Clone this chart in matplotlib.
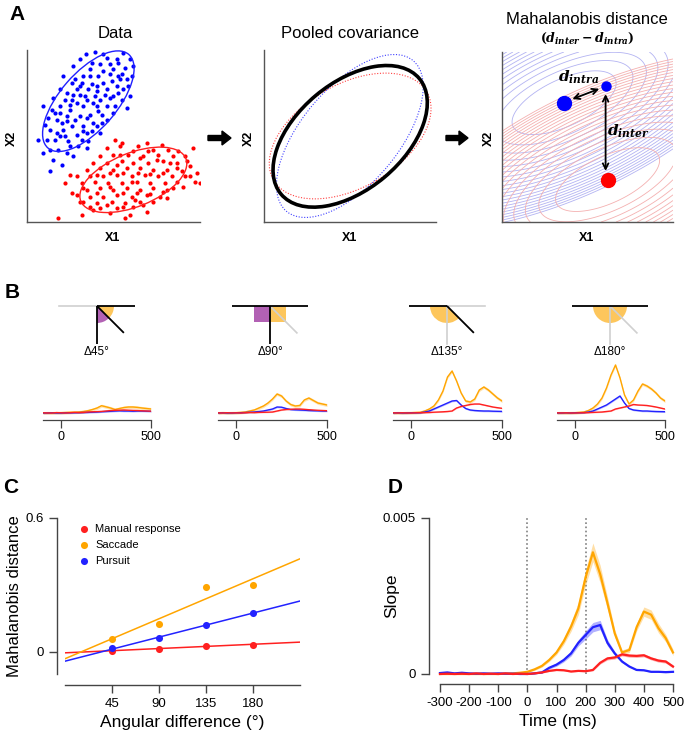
import numpy as np
import matplotlib.pyplot as plt
from matplotlib.patches import Ellipse, Wedge, Rectangle, FancyArrow

plt.rcParams['font.family'] = ['Liberation Sans', 'DejaVu Sans']
plt.rcParams['axes.unicode_minus'] = False
plt.rcParams['mathtext.fontset'] = 'custom'
plt.rcParams['mathtext.it'] = 'DejaVu Serif:italic:bold'
plt.rcParams['mathtext.rm'] = 'DejaVu Serif:bold'

W, H = 685, 735

ORANGE = '#ffa500'
BLUE = '#2222ff'
RED = '#ff2020'
SPINE = '#444444'

# ---------------- panel A: toy data in feature units ----------------
blue_pts = [(25.8, 53.5), (28.5, 54.2), (32, 52.5), (35, 52), (35.5, 51), (39, 52.2), (30, 50.5),
            (27, 49), (34, 49), (37.5, 49.5), (33, 47.5), (29.5, 47), (25, 47), (36, 46), (38, 46),
            (31, 45), (27.5, 44.5), (24.5, 45), (21.5, 45), (19, 47), (35, 44), (32, 43), (29, 42.5),
            (26.5, 43), (23, 43), (20, 42), (37, 43), (34, 41), (30, 40), (26, 40), (23, 39),
            (19.5, 40), (16, 40.5), (32, 38), (29, 38), (25, 38), (21, 37), (18, 38), (15.5, 37),
            (34.5, 38), (30.5, 35.5), (27, 35.5), (24, 35), (20, 35), (17, 34), (13.5, 32.5), (28, 33),
            (25, 32), (21.5, 32), (18.5, 33), (15, 31), (26, 30), (23, 29.5), (19.5, 29), (16.5, 28),
            (14, 28), (30, 30), (24.5, 28), (21, 26), (17.5, 25), (20, 24), (15, 25), (12.8, 24),
            (18.5, 20.5), (15, 18.5), (38, 37.5), (36.5, 40), (39, 41), (21.5, 40), (24, 41.5),
            (28.5, 41), (27, 47), (22.5, 46), (31, 48.5), (18, 29), (26.5, 27.5), (29, 32), (32, 34),
            (33, 40.5), (35.5, 47), (22, 50), (24, 52), (31, 53.5), (37, 54), (40, 50), (38.5, 44),
            (33.5, 45.5), (29, 44), (25.5, 41), (22, 41.5), (18, 43), (16.5, 36), (19, 31),
            (22.5, 34), (26, 34.5), (29.5, 36.5), (31.5, 41.5), (28, 39), (35.5, 42), (14.5, 34.5),
            (17, 30), (20.5, 27.5), (23.5, 26), (27.5, 30.5), (21, 38.5), (24, 44), (27.5, 51),
            (33, 50.5), (36.5, 47.5), (30.5, 33), (25, 30.5), (13, 38), (11.5, 28), (16, 22),
            (22, 23), (39.5, 47), (34, 36), (26, 25.5), (20, 33.5), (18, 36)]
red_pts = [(34.5, 28), (36.5, 27), (41.5, 26), (46, 25), (50.5, 25), (58, 25.5), (30, 23), (34, 23.5),
           (38.5, 23.5), (43, 23), (47.5, 23.5), (52, 23), (55.5, 23), (28, 21), (32, 21), (36.5, 21.5),
           (40, 21), (44.5, 21), (49, 21.5), (53, 21), (57, 20), (59, 18), (26, 19), (30, 19.5),
           (34, 19), (38, 19.5), (42, 19.5), (46, 19), (50, 19), (54.5, 18.5), (23, 17), (27, 17),
           (31, 17), (35, 17.5), (39.5, 17), (43.5, 17.5), (47.5, 17), (51.5, 17), (55.5, 17),
           (58.5, 15.5), (19.5, 15), (24.5, 15), (28.5, 15.5), (32.5, 15), (36.5, 15.2), (41, 15.5),
           (45, 15), (49.5, 15), (53, 15.5), (26, 13), (30, 13.5), (34, 13), (38, 13.5), (42, 13),
           (46, 13.5), (50, 13), (23, 11.5), (27, 11), (31, 11), (35, 11.5), (39.5, 11), (44, 11.5),
           (48, 11), (25, 9.5), (29, 9), (33.5, 9.5), (37.5, 9), (42, 9.5), (30, 7.5), (35, 7.5),
           (40, 8), (44, 6.5), (24.5, 5.5), (17.5, 4.5), (37.5, 4.5), (33, 6), (27, 8), (39.5, 15.5),
           (41.5, 18), (35, 20.5), (32, 25.5), (44, 27), (48.5, 26.5), (53.5, 24.5), (56, 21.5),
           (47, 22), (42, 22.5), (36, 23.5), (29, 17.5), (33, 18), (37, 18), (45, 17.8), (49, 18),
           (53, 19.5), (57, 17), (21, 17.5), (25, 13.5), (29, 12), (33, 14), (37, 12), (41, 12),
           (45, 11.8), (49, 12.5), (52, 13.5), (55, 14), (21.5, 12), (24, 9.5), (28, 7), (32, 8.5),
           (37, 8), (40.5, 10), (43, 8.5), (46, 9.5), (50, 10.5), (36, 26), (40, 24.5), (44.5, 24.5),
           (51, 21), (60, 15), (39, 5.5)]

# ellipses: (center x, center y, width, height, angle)
blue_ellipse = (26.5, 39.5, 37, 17, 49)
red_ellipse = (40, 16, 34, 16, 22)
pooled_ellipse = (36.1, 28.9, 54, 32, 40)
blue_cov_ellipse = (36.0, 29.0, 59, 29, 50)
red_cov_ellipse = (36.1, 29.0, 53, 31, 30)

# Mahalanobis panel
blue_mean = (31.2, 39.2)
blue_trial = (43.7, 44.1)
red_mean = (44.3, 16.0)
pooled_sd = (12.0, 5.0)
pooled_angle = 25

# ---------------- panel B: distance time courses ----------------
b_deltas = ['\u039445\u00b0', '\u039490\u00b0', '\u0394135\u00b0', '\u0394180\u00b0']
b_time = [-100, -75, -50, -25, 0, 25, 50, 75, 100, 125, 150, 175, 200, 225, 250, 275, 300,
          325, 350, 375, 400, 425, 450, 475, 500]
b_saccade = [
    [0.0, 0.002, 0.0, 0.003, 0.003, 0.005, 0.007, 0.008, 0.01, 0.015, 0.023, 0.035, 0.05, 0.073,
     0.062, 0.05, 0.035, 0.045, 0.055, 0.06, 0.06, 0.056, 0.05, 0.045, 0.04],
    [0.0, 0.003, 0.0, 0.002, 0.003, 0.006, 0.01, 0.02, 0.03, 0.05, 0.07, 0.1, 0.14, 0.19,
     0.17, 0.12, 0.085, 0.07, 0.075, 0.13, 0.15, 0.125, 0.1, 0.09, 0.08],
    [0.0, 0.002, 0.0, 0.003, 0.003, 0.005, 0.007, 0.02, 0.04, 0.07, 0.13, 0.22, 0.36, 0.42,
     0.32, 0.2, 0.12, 0.11, 0.14, 0.23, 0.26, 0.23, 0.19, 0.15, 0.12],
    [0.0, 0.002, 0.0, 0.002, 0.003, 0.006, 0.01, 0.025, 0.05, 0.09, 0.15, 0.25, 0.38, 0.48,
     0.35, 0.18, 0.09, 0.13, 0.22, 0.29, 0.27, 0.24, 0.2, 0.15, 0.12],
]
b_pursuit = [
    [0.0, 0.0, 0.002, 0.0, 0.0, 0.002, 0.002, 0.003, 0.004, 0.005, 0.006, 0.008, 0.01, 0.013,
     0.015, 0.017, 0.02, 0.022, 0.02, 0.02, 0.018, 0.02, 0.02, 0.018, 0.017],
    [0.0, 0.002, 0.0, 0.0, 0.002, 0.003, 0.005, 0.008, 0.01, 0.015, 0.02, 0.03, 0.04, 0.06,
     0.058, 0.045, 0.035, 0.032, 0.03, 0.028, 0.025, 0.023, 0.022, 0.02, 0.02],
    [0.0, 0.002, 0.0, 0.0, 0.002, 0.002, 0.003, 0.01, 0.02, 0.04, 0.06, 0.08, 0.1, 0.12,
     0.125, 0.08, 0.045, 0.03, 0.025, 0.022, 0.02, 0.02, 0.018, 0.017, 0.016],
    [0.0, 0.0, 0.002, 0.0, 0.002, 0.003, 0.004, 0.01, 0.02, 0.04, 0.06, 0.08, 0.11, 0.14,
     0.17, 0.1, 0.045, 0.03, 0.025, 0.02, 0.02, 0.017, 0.015, 0.014, 0.013],
]
b_manual = [
    [0.002, 0.0, 0.0, 0.004, 0.002, 0.0, 0.003, 0.006, 0.004, 0.006, 0.01, 0.012, 0.014, 0.016,
     0.02, 0.024, 0.027, 0.028, 0.03, 0.028, 0.026, 0.025, 0.022, 0.02, 0.018],
    [0.002, 0.0, 0.003, 0.0, 0.002, 0.0, 0.003, 0.005, 0.004, 0.006, 0.007, 0.008, 0.01, 0.02,
     0.03, 0.035, 0.037, 0.04, 0.04, 0.037, 0.033, 0.03, 0.027, 0.025, 0.023],
    [0.002, 0.0, 0.002, 0.0, 0.0, 0.002, 0.003, 0.004, 0.005, 0.008, 0.01, 0.012, 0.015, 0.02,
     0.05, 0.065, 0.075, 0.085, 0.09, 0.09, 0.08, 0.07, 0.06, 0.053, 0.047],
    [0.002, 0.0, 0.002, 0.0, 0.0, 0.002, 0.003, 0.004, 0.006, 0.008, 0.01, 0.015, 0.02, 0.04,
     0.05, 0.06, 0.07, 0.085, 0.08, 0.078, 0.075, 0.068, 0.06, 0.05, 0.04],
]
b_sem = {'saccade': 0.015, 'pursuit': 0.008, 'manual': 0.005}

# direction sketches above each time course (angles in degrees)
sketch_black = [[0, 270, 315], [0, 180, 270], [180, 315], [0, 180]]
sketch_gray = [[180], [315], [0, 270], [270, 315]]
sketch_orange = [(315, 360), (270, 360), (180, 315), (180, 360)]
sketch_purple = [(270, 315), (180, 270), None, None]

# ---------------- panel C ----------------
angles = [45, 90, 135, 180]
maha_manual = [0.005, 0.012, 0.027, 0.032]
maha_saccade = [0.056, 0.125, 0.29, 0.30]
maha_pursuit = [0.015, 0.06, 0.12, 0.175]

# ---------------- panel D (slope, x1e-3) ----------------
d_time = [-300, -275, -250, -225, -200, -175, -150, -125, -100, -75, -50, -25, 0, 25, 50, 75,
          100, 125, 150, 175, 200, 225, 250, 275, 300, 325, 350, 375, 400, 425, 450, 475, 500]
d_saccade = [0, 0, 0, 0, 0, 0, 0, 0, 0, 0.01, 0.02, 0.04, 0.07, 0.15, 0.26, 0.45, 0.69, 1.05,
             1.52, 2.1, 3.1, 3.9, 3.2, 2.27, 1.3, 0.69, 0.77, 1.5, 2.0, 1.9, 1.47, 1.15, 0.69]
d_saccade_sem = [0.01, 0.01, 0.01, 0.01, 0.01, 0.01, 0.01, 0.01, 0.01, 0.01, 0.01, 0.02, 0.02,
                 0.03, 0.04, 0.05, 0.07, 0.1, 0.15, 0.2, 0.25, 0.3, 0.28, 0.2, 0.12, 0.08, 0.08,
                 0.12, 0.15, 0.15, 0.15, 0.12, 0.1]
d_pursuit = [0.03, 0.05, 0.02, 0.04, 0.02, 0.01, 0.02, 0.01, 0.02, 0.01, 0.01, 0.0, 0.0, 0.02,
             0.05, 0.2, 0.3, 0.45, 0.66, 1.0, 1.25, 1.5, 1.57, 1.0, 0.66, 0.4, 0.24, 0.13, 0.12,
             0.07, 0.07, 0.06, 0.07]
d_pursuit_sem = [0.01, 0.01, 0.01, 0.01, 0.01, 0.01, 0.01, 0.01, 0.01, 0.01, 0.01, 0.01, 0.01,
                 0.01, 0.02, 0.04, 0.05, 0.06, 0.08, 0.1, 0.13, 0.15, 0.15, 0.1, 0.06, 0.04, 0.03,
                 0.02, 0.02, 0.02, 0.02, 0.02, 0.02]
d_manual = [0.0, 0.01, 0.0, 0.01, 0.0, 0.02, 0.0, 0.01, 0.0, 0.02, 0.0, 0.01, 0.0, 0.02, 0.05,
            0.1, 0.13, 0.12, 0.08, 0.1, 0.09, 0.13, 0.36, 0.5, 0.53, 0.63, 0.59, 0.58, 0.6, 0.5,
            0.43, 0.4, 0.24]
d_manual_sem = [0.01, 0.01, 0.01, 0.01, 0.01, 0.01, 0.01, 0.01, 0.01, 0.01, 0.01, 0.01, 0.01,
                0.01, 0.02, 0.02, 0.02, 0.02, 0.02, 0.02, 0.02, 0.03, 0.04, 0.05, 0.05, 0.05,
                0.05, 0.05, 0.05, 0.05, 0.05, 0.05, 0.05]

fig = plt.figure(figsize=(W / 100, H / 100), dpi=100)


def px_axes(left, top, right, bottom):
    return fig.add_axes([left / W, 1 - bottom / H, (right - left) / W, (bottom - top) / H])


def label(x, y, s, **kw):
    fig.text(x / W, 1 - y / H, s, ha='center', va='center', **kw)


def frame(ax, xlim, ylim):
    ax.set_xlim(xlim)
    ax.set_ylim(ylim)
    for s in ['top', 'right']:
        ax.spines[s].set_visible(False)
    for s in ['left', 'bottom']:
        ax.spines[s].set_color('#555555')
        ax.spines[s].set_linewidth(1.0)
    ax.set_xticks([])
    ax.set_yticks([])
    ax.patch.set_alpha(0)


def add_ellipse(ax, e, **kw):
    ax.add_patch(Ellipse((e[0], e[1]), e[2], e[3], angle=e[4], fill=False, **kw))


# ---- A1: data ----
ax = px_axes(27, 50, 200, 222)
frame(ax, (8.1, 60), (3.4, 54.8))
bx, by = zip(*blue_pts)
rx, ry = zip(*red_pts)
ax.scatter(bx, by, s=9, color='#0000ff', lw=0)
ax.scatter(rx, ry, s=9, color='#ff0000', lw=0)
add_ellipse(ax, blue_ellipse, ec='#2020ff', lw=1.0)
add_ellipse(ax, red_ellipse, ec='#ff2020', lw=1.0)

# ---- A2: pooled covariance ----
ax = px_axes(264, 50, 436, 222)
frame(ax, (10.3, 61.8), (3.2, 54.8))
add_ellipse(ax, blue_cov_ellipse, ec='#4040ff', lw=0.8, ls=(0, (1, 1.5)))
add_ellipse(ax, red_cov_ellipse, ec='#ff4040', lw=0.8, ls=(0, (1, 1.5)))
add_ellipse(ax, pooled_ellipse, ec='black', lw=2.6)

# ---- A3: Mahalanobis distance ----
ax = px_axes(502, 52, 673, 222)
frame(ax, (12.5, 64), (3.2, 54.5))
gx, gy = np.meshgrid(np.linspace(12.5, 64, 400), np.linspace(3.2, 54.5, 400))
th = np.deg2rad(pooled_angle)
rot = np.array([[np.cos(th), -np.sin(th)], [np.sin(th), np.cos(th)]])
icov = np.linalg.inv(rot @ np.diag(np.square(pooled_sd)) @ rot.T)


def maha2(c):
    dx, dy = gx - c[0], gy - c[1]
    return icov[0, 0] * dx ** 2 + 2 * icov[0, 1] * dx * dy + icov[1, 1] * dy ** 2


levels = np.arange(2, 33, 1.5)
ax.contour(gx, gy, maha2(blue_mean), levels=levels, colors='#b3b3f2', linewidths=0.6)
ax.contour(gx, gy, maha2(red_mean), levels=levels, colors='#f4b0b0', linewidths=0.6)
ax.plot(*blue_mean, 'o', color='#0000ff', ms=10)
ax.plot(*blue_trial, 'o', color='#0000ff', ms=6.5)
ax.plot(*red_mean, 'o', color='#ff0000', ms=10)
arrow_kw = dict(arrowstyle='<->', lw=1.3, color='black', shrinkA=0, shrinkB=0, mutation_scale=10)
ax.annotate('', xy=(41.8, 43.4), xytext=(33.7, 40.3), arrowprops=arrow_kw)
ax.annotate('', xy=(blue_trial[0], 18.6), xytext=(blue_trial[0], 41.8), arrowprops=arrow_kw)
ax.text(35.5, 46.8, r'$d_{intra}$', fontsize=11, ha='center', va='center')
ax.text(50.5, 30.5, r'$d_{inter}$', fontsize=11, ha='center', va='center')

label(115, 33, 'Data', fontsize=12)
label(350, 33, 'Pooled covariance', fontsize=12)
label(587, 20, 'Mahalanobis distance', fontsize=12)
label(587, 38, r'$(d_{inter} - d_{intra})$', fontsize=9)
for x in [113, 350, 587]:
    label(x, 238, 'X1', fontsize=9, fontweight='bold')
for x in [12, 249, 489]:
    label(x, 138, 'X2', fontsize=9, fontweight='bold', rotation=90)

# ---- B: sketches and time courses ----
sketch_cx = [97, 270, 447, 610]
curve_span = [(43, 151), (218, 327), (393, 502), (557, 665)]
R, r = 38, 17
for i in range(4):
    cx = sketch_cx[i]
    sk = px_axes(cx - 45, 296, cx + 45, 346)
    sk.set_xlim(-45, 45)
    sk.set_ylim(-40, 10)
    sk.axis('off')
    fills = [(sketch_orange[i], '#fdc65c'), (sketch_purple[i], '#b261b4')]
    for span, col in fills:
        if span is None:
            continue
        if b_deltas[i] == '\u039490\u00b0':
            x0 = -16 if span[0] == 180 else 0
            sk.add_patch(Rectangle((x0, -16), 16, 16, fc=col, ec='none', zorder=1))
        else:
            sk.add_patch(Wedge((0, 0), r, span[0], span[1], fc=col, ec='none', zorder=1))
    for a in sketch_gray[i]:
        t = np.deg2rad(a)
        sk.plot([0, R * np.cos(t)], [0, R * np.sin(t)], color='#d0d0d0', lw=1.2, zorder=2)
    for a in sketch_black[i]:
        t = np.deg2rad(a)
        sk.plot([0, R * np.cos(t)], [0, R * np.sin(t)], color='black', lw=1.3, zorder=3,
                solid_capstyle='butt')
    label(cx, 352, b_deltas[i], fontsize=8.5)

    left, right = curve_span[i]
    ax = px_axes(left, 353, right, 420)
    ax.set_xlim(-100, 500)
    ax.set_ylim(-0.07, 0.6)
    for s in ['top', 'right', 'left']:
        ax.spines[s].set_visible(False)
    ax.spines['bottom'].set_color(SPINE)
    ax.spines['bottom'].set_linewidth(0.9)
    ax.set_yticks([])
    ax.set_xticks([0, 500])
    ax.tick_params(axis='x', length=6, width=0.9, color=SPINE, labelsize=9, pad=2)
    ax.patch.set_alpha(0)
    for vals, col, key in [(b_saccade[i], ORANGE, 'saccade'), (b_pursuit[i], BLUE, 'pursuit'),
                           (b_manual[i], RED, 'manual')]:
        v = np.array(vals)
        ax.fill_between(b_time, v - b_sem[key], v + b_sem[key], color=col, alpha=0.3, lw=0)
        ax.plot(b_time, v, color=col, lw=1.0)

# ---- C ----
ax = px_axes(65, 518, 300, 674)
ax.set_xlim(0, 225)
ax.set_ylim(-0.1, 0.6)
for vals, col, name in [(maha_manual, RED, 'Manual response'), (maha_saccade, ORANGE, 'Saccade'),
                        (maha_pursuit, BLUE, 'Pursuit')]:
    coef = np.polyfit(angles, vals, 1)
    xs = np.array(ax.get_xlim())
    ax.plot(xs, np.polyval(coef, xs), color=col, lw=1.1, zorder=2)
    ax.scatter(angles, vals, s=26, color=col, lw=0, label=name, zorder=3)
for s in ['top', 'right']:
    ax.spines[s].set_visible(False)
ax.spines['left'].set_position(('outward', 6))
ax.spines['bottom'].set_position(('outward', 8))
ax.spines['left'].set_bounds(-0.1, 0.6)
for s in ['left', 'bottom']:
    ax.spines[s].set_color(SPINE)
    ax.spines[s].set_linewidth(1.0)
ax.set_xticks(angles)
ax.set_yticks([0, 0.6], ['0', '0.6'])
ax.tick_params(length=6, width=1.0, color=SPINE, labelsize=9.5)
ax.set_xlabel('Angular difference (\u00b0)', fontsize=12.5)
ax.set_ylabel('Mahalanobis distance', fontsize=12)
ax.xaxis.set_label_coords(0.5, -0.262)
ax.yaxis.set_label_coords(-0.183, 0.5)
ax.legend(loc='upper left', bbox_to_anchor=(0.03, 1.0), frameon=False, fontsize=8,
          handletextpad=0.4, labelspacing=0.55, borderpad=0.0, handlelength=1.2)

# ---- D ----
ax = px_axes(440, 518, 673, 674)
ax.set_xlim(-300, 500)
ax.set_ylim(0, 0.005)
ax.axvline(0, color='#808080', ls=(0, (1, 1.5)), lw=1.2, zorder=1)
ax.axvline(200, color='#808080', ls=(0, (1, 1.5)), lw=1.2, zorder=1)
for vals, sem, col in [(d_saccade, d_saccade_sem, ORANGE), (d_pursuit, d_pursuit_sem, BLUE),
                       (d_manual, d_manual_sem, RED)]:
    v = np.array(vals) * 1e-3
    e = np.array(sem) * 1e-3
    ax.fill_between(d_time, v - e, v + e, color=col, alpha=0.35, lw=0, clip_on=False)
    ax.plot(d_time, v, color=col, lw=1.6, clip_on=False)
for s in ['top', 'right']:
    ax.spines[s].set_visible(False)
ax.spines['left'].set_position(('outward', 8))
ax.spines['bottom'].set_position(('outward', 7))
for s in ['left', 'bottom']:
    ax.spines[s].set_color(SPINE)
    ax.spines[s].set_linewidth(1.0)
ax.set_xticks(range(-300, 501, 100))
ax.set_yticks([0, 0.005], ['0', '0.005'])
ax.tick_params(length=6, width=1.0, color=SPINE, labelsize=9.5)
ax.set_xlabel('Time (ms)', fontsize=12.5)
ax.set_ylabel('Slope', fontsize=12.5)
ax.xaxis.set_label_coords(0.504, -0.256)
ax.yaxis.set_label_coords(-0.176, 0.5)

# ---- overlay: panel letters and arrows ----
ov = fig.add_axes([0, 0, 1, 1])
ov.set_xlim(0, W)
ov.set_ylim(H, 0)
ov.axis('off')
for x0, x1 in [(208, 231), (446, 468)]:
    ov.add_patch(FancyArrow(x0, 138, x1 - x0, 0, width=5, head_width=14, head_length=9,
                            length_includes_head=True, color='black'))
for letter, x, y in [('A', 17, 14), ('B', 12, 292), ('C', 11, 487), ('D', 395, 487)]:
    ov.text(x, y, letter, fontsize=15, fontweight='bold', ha='center', va='center')

fig.savefig('out.png', dpi=100)
